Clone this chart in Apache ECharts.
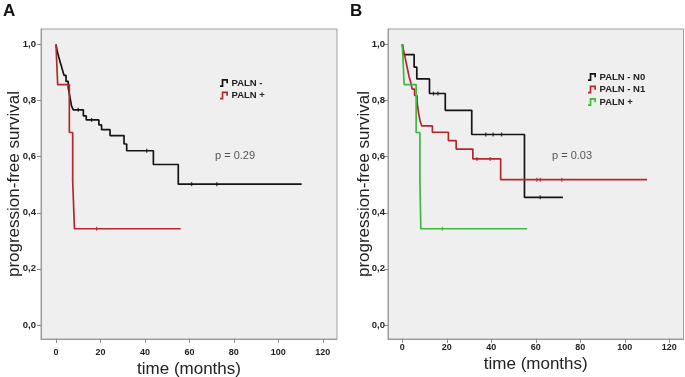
<!DOCTYPE html>
<html>
<head>
<meta charset="utf-8">
<script src="https://cdn.jsdelivr.net/npm/echarts@6/dist/echarts.min.js"></script>
<style>
html,body{margin:0;padding:0;background:#fff;}
#c{width:685px;height:377px;}
</style>
</head>
<body>
<div id="c"></div>
<script>
// ---- data ----
var xTicks = [0, 20, 40, 60, 80, 100, 120];
var yTicks = [0, 0.2, 0.4, 0.6, 0.8, 1.0];

// Panel A
var aNegT = [0, 0.5, 1.2, 2.0, 2.8, 3.6, 4.5, 5.5, 6.0, 6.5, 7.0, 7.8, 12.3, 13.6, 19.3, 20.5, 24.3, 30.6, 31.8, 43.8, 55.0, 110.5];
var aNegS = [1.0, 0.978, 0.956, 0.934, 0.912, 0.890, 0.868, 0.846, 0.824, 0.802, 0.780, 0.767, 0.745, 0.731, 0.713, 0.696, 0.675, 0.645, 0.621, 0.572, 0.502, 0.502];
var aPosT = [0, 0.75, 6.0, 7.5, 8.3, 56.1];
var aPosS = [1.0, 0.857, 0.686, 0.514, 0.343, 0.343];
var aNegCensT = [10, 16, 40.8, 61, 72.3];
var aNegCensS = [0.767, 0.731, 0.621, 0.502, 0.502];
var aPosCensT = [18.3];
var aPosCensS = [0.343];

// Panel B
var bN0T = [0, 0.5, 5.3, 6.5, 12.2, 19.3, 31.2, 54.9, 72.2];
var bN0S = [1.0, 0.964, 0.919, 0.877, 0.825, 0.765, 0.679, 0.455, 0.455];
var bN1T = [0, 0.6, 1.2, 1.8, 2.4, 3.0, 3.8, 4.4, 5.5, 6.6, 7.0, 7.4, 8.0, 8.7, 13.5, 20.7, 24.2, 31.7, 44.2, 110.0];
var bN1S = [1.0, 0.977, 0.955, 0.932, 0.909, 0.886, 0.864, 0.841, 0.818, 0.795, 0.773, 0.750, 0.727, 0.710, 0.687, 0.657, 0.627, 0.592, 0.518, 0.518];
var bPosT = [0, 0.8, 6.2, 7.9, 8.3, 56.0];
var bPosS = [1.0, 0.857, 0.686, 0.514, 0.343, 0.343];
var bN0CensT = [14, 16, 37.5, 40.8, 44.6, 62];
var bN0CensS = [0.825, 0.825, 0.679, 0.679, 0.679, 0.455];
var bN1CensT = [33.5, 39.5, 60.5, 62, 71.7];
var bN1CensS = [0.592, 0.592, 0.518, 0.518, 0.518];
var bPosCensT = [18];
var bPosCensS = [0.343];

// ---- styles ----
var BLACK = '#141414', RED = '#b3282c', GREEN = '#3fb93f';
var FONT = '"Liberation Sans", Arial, Helvetica, sans-serif';
var STEP_ICON = 'path://M0,7.5 L2,7.5 L2,0 L9.5,0 L9.5,5 L7.5,5 L7.5,2 L4,2 L4,9.5 L0,9.5 Z';

function zip(t, s) { return t.map(function (v, i) { return [v, s[i]]; }); }

function xAxisCfg(gi, min, nameGap, labelMargin) {
  return {
    type: 'value', gridIndex: gi, min: min, max: 126.4,
    axisLine: { show: true, onZero: false, lineStyle: { color: '#9a9a9a', width: 1 } },
    axisTick: { show: true, length: 4, customValues: xTicks, lineStyle: { color: '#8a8a8a' } },
    axisLabel: { customValues: xTicks, margin: labelMargin, fontFamily: FONT, fontWeight: 'bold', fontSize: 9, color: '#222' },
    splitLine: { show: false },
    name: 'time (months)', nameLocation: 'middle', nameGap: nameGap, nameMoveOverlap: false,
    nameTextStyle: { fontFamily: FONT, fontSize: 17, color: '#222' }
  };
}
function yAxisCfg(gi, nameGap, labelMargin) {
  return {
    type: 'value', gridIndex: gi, min: -0.05, max: 1.055,
    axisLine: { show: true, onZero: false, lineStyle: { color: '#9a9a9a', width: 1 } },
    axisTick: { show: true, length: 4, customValues: yTicks, lineStyle: { color: '#8a8a8a' } },
    axisLabel: {
      customValues: yTicks, margin: labelMargin, fontFamily: FONT, fontWeight: 'bold', fontSize: 9.5, color: '#222',
      formatter: function (v) { return v.toFixed(1).replace('.', ','); }
    },
    splitLine: { show: false },
    name: 'progression-free survival', nameLocation: 'middle', nameGap: nameGap, nameRotate: 90, nameMoveOverlap: false,
    nameTextStyle: { fontFamily: FONT, fontSize: 17, color: '#222' }
  };
}
function km(name, gi, t, s, color) {
  return {
    type: 'line', name: name, xAxisIndex: gi, yAxisIndex: gi, data: zip(t, s), step: 'end',
    showSymbol: false, symbol: 'none', color: color, itemStyle: { color: color },
    lineStyle: { color: color, width: 1.7 }, silent: true, animation: false, z: 3
  };
}
function cens(gi, t, s, color) {
  return {
    type: 'scatter', xAxisIndex: gi, yAxisIndex: gi, data: zip(t, s),
    symbol: 'rect', symbolSize: [1.3, 4], itemStyle: { color: color }, silent: true, animation: false, z: 4
  };
}
function legendCfg(names, left, top) {
  return {
    data: names, orient: 'vertical', left: left, top: top, icon: STEP_ICON,
    itemWidth: 9, itemHeight: 8, itemGap: 2.5, padding: 0,
    itemStyle: { borderWidth: 0 },
    textStyle: { fontFamily: FONT, fontWeight: 'bold', fontSize: 9.5, color: '#222', padding: [0, 0, 0, -2] },
    formatter: function (n) { return n.split('|')[1]; },
    selectedMode: false
  };
}

var chart = echarts.init(document.getElementById('c'), null, { renderer: 'canvas' });
chart.setOption({
  animation: false,
  backgroundColor: '#ffffff',
  grid: [
    { left: 41, top: 29, width: 296, bottom: 38, outerBoundsMode: 'none', show: true, backgroundColor: '#efefef', borderColor: '#a0a0a0', borderWidth: 1 },
    { left: 388, top: 29, width: 295.5, bottom: 38, outerBoundsMode: 'none', show: true, backgroundColor: '#efefef', borderColor: '#a0a0a0', borderWidth: 1 }
  ],
  xAxis: [xAxisCfg(0, -6.75, 22, 9), xAxisCfg(1, -6.45, 17, 4)],
  yAxis: [yAxisCfg(0, 18, 5), yAxisCfg(1, 15, 3)],
  legend: [
    legendCfg(['A|PALN -', 'A|PALN +'], 220, 78),
    legendCfg(['B|PALN - N0', 'B|PALN - N1', 'B|PALN +'], 588, 72)
  ],
  series: [
    km('A|PALN -', 0, aNegT, aNegS, BLACK),
    km('A|PALN +', 0, aPosT, aPosS, RED),
    cens(0, aNegCensT, aNegCensS, BLACK),
    cens(0, aPosCensT, aPosCensS, RED),
    km('B|PALN - N0', 1, bN0T, bN0S, BLACK),
    km('B|PALN - N1', 1, bN1T, bN1S, RED),
    km('B|PALN +', 1, bPosT, bPosS, GREEN),
    cens(1, bN0CensT, bN0CensS, BLACK),
    cens(1, bN1CensT, bN1CensS, RED),
    cens(1, bPosCensT, bPosCensS, GREEN)
  ],
  graphic: [
    { type: 'text', left: 3, top: 3, style: { text: 'A', font: 'bold 17px ' + FONT, fill: '#111' } },
    { type: 'text', left: 350, top: 3, style: { text: 'B', font: 'bold 17px ' + FONT, fill: '#111' } },
    { type: 'text', left: 215, top: 150, style: { text: 'p = 0.29', font: '11px ' + FONT, fill: '#555' } },
    { type: 'text', left: 552, top: 150, style: { text: 'p = 0.03', font: '11px ' + FONT, fill: '#555' } }
  ]
});
</script>
</body>
</html>
